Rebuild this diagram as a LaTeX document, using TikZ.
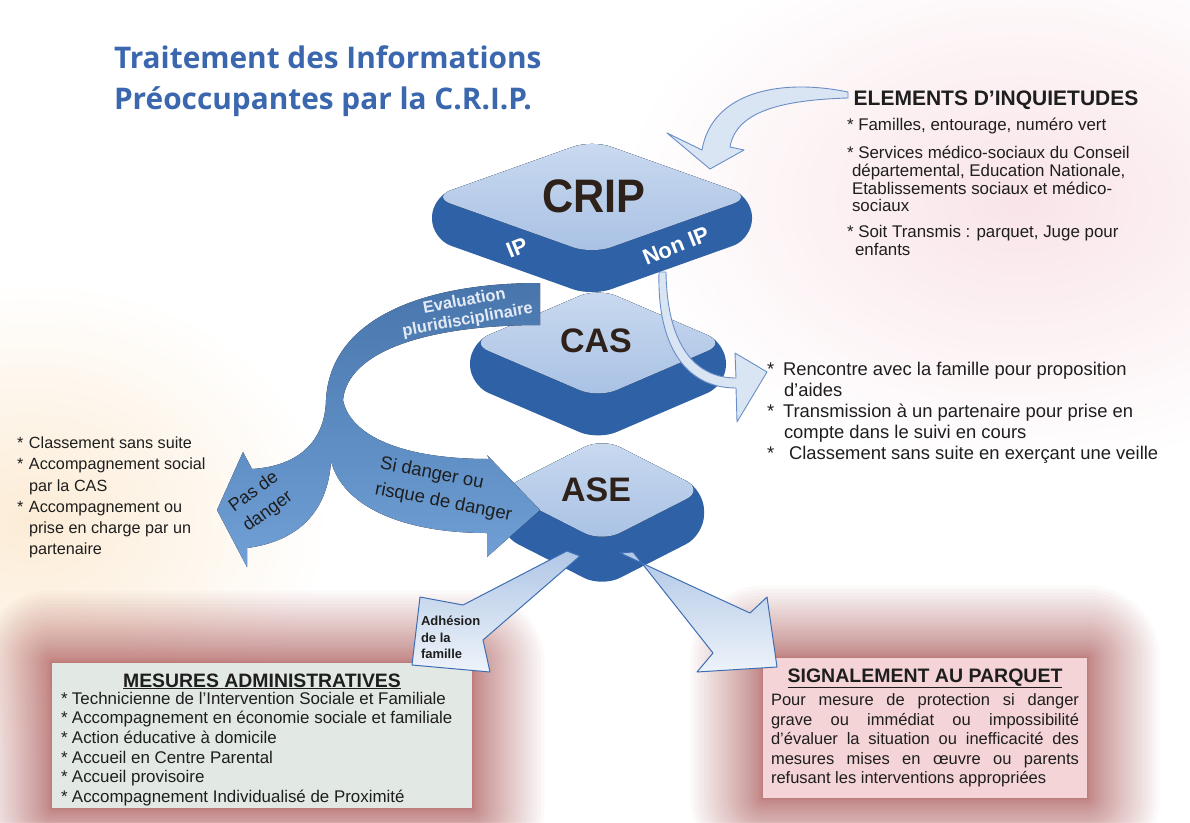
\documentclass[tikz,border=0pt]{standalone}
\usepackage{fontspec}
\usepackage{graphicx}
\setmainfont{Liberation Sans}
\newfontfamily\titlefont{Open Sans}
\newcommand\fsz[2]{\fontsize{#1}{#2}\selectfont}
\definecolor{facetop}{RGB}{202,218,240}
\definecolor{facebot}{RGB}{168,193,228}
\definecolor{sideblue}{RGB}{47,97,167}
\definecolor{bandtop}{RGB}{72,118,172}
\definecolor{bandbot}{RGB}{112,160,214}
\definecolor{arrowfill}{RGB}{218,229,243}
\definecolor{arrowline}{RGB}{105,142,198}
\definecolor{downtop}{RGB}{176,199,230}
\definecolor{downbot}{RGB}{238,243,250}
\definecolor{downline}{RGB}{62,110,178}
\definecolor{titleblue}{RGB}{58,103,174}
\definecolor{txtdark}{RGB}{30,30,30}
\definecolor{slabtxt}{RGB}{45,33,25}
\definecolor{mesfill}{RGB}{226,232,228}
\definecolor{sigfill}{RGB}{244,212,214}
\definecolor{glowred}{RGB}{178,88,88}
\definecolor{softpink}{RGB}{249,228,232}
\definecolor{softpeach}{RGB}{252,236,214}
\definecolor{evaltxt}{RGB}{228,235,245}
\newcommand\softglow[8]{%
  \foreach \k in {#8,...,1}{%
    \pgfmathsetmacro\dd{#6*(\k/#8)^2+0.5}%
    \fill[#5, opacity=#7, rounded corners=\dd pt] (#1-\dd,#2-\dd) rectangle (#3+\dd,#4+\dd);}}
\newcommand\slab[5]{%
  \fill[sideblue, rounded corners=20pt] (#1-#3,#2) -- (#1,#2-#4) -- (#1+#3,#2) -- (#1+#3,#2+#5) -- (#1,#2+#4+#5) -- (#1-#3,#2+#5) -- cycle;
  \fill[top color=facetop, bottom color=facebot, rounded corners=20pt] (#1-#3,#2) -- (#1,#2-#4) -- (#1+#3,#2) -- (#1,#2+#4) -- cycle;}
\begin{document}
\begin{tikzpicture}[x=1pt,y=-1pt,
  every node/.style={inner sep=0pt, outer sep=0pt},
  slablabel/.style={text=slabtxt, font=\bfseries\fsz{34}{36}},
  sidelabel/.style={text=white, font=\bfseries\fsz{22}{24}, rotate=22},
  bodytext/.style={text=txtdark, align=left, anchor=north west},
  arrowtxt/.style={text=txtdark, align=left},
  curvearrow/.style={fill=arrowfill, draw=arrowline, line width=0.9pt, line join=round},
  downarrow/.style={top color=downtop, bottom color=downbot, draw=downline, line width=1pt, line join=round}]
\useasboundingbox (0,0) rectangle (1190,822);
\fill[white] (0,0) rectangle (1190,822);
% soft backgrounds
\begin{scope}
\clip (0,0) rectangle (1190,822);
\shade[inner color=softpink, outer color=white] (1020,200) ellipse (400 and 270);
\shade[inner color=softpeach, outer color=white] (30,520) ellipse (300 and 240);
\end{scope}
\softglow{52}{663}{472}{808}{glowred}{72}{0.03}{40}
\softglow{763}{658}{1087}{798}{glowred}{72}{0.03}{40}
% boxes
\node[fill=mesfill, minimum width=420pt, minimum height=145pt] (mesbox) at (262,735.5) {};
\node[fill=sigfill, minimum width=324pt, minimum height=140pt] (sigbox) at (925,728) {};
% slabs
\slab{602}{490}{102}{52}{45}
\slab{598}{343}{128}{55}{42}
\slab{592}{197}{160}{57}{42}
% evaluation band
\fill[top color=bandtop, bottom color=bandbot]
  (540,283) .. controls (420,283) and (330,320) .. (326,400)
  .. controls (325,440) and (300,466) .. (252,469)
  -- (243,452) -- (217,510) -- (247,567) -- (247,548)
  .. controls (300,541) and (328,510) .. (331,461)
  .. controls (342,505) and (400,533) .. (487,533)
  -- (487,557) -- (540,510) -- (487,455) -- (489,459)
  .. controls (400,459) and (350,435) .. (343,400)
  .. controls (348,350) and (430,325) .. (540,325) -- cycle;
% curved arrow from Elements
\path[curvearrow] (848,92) .. controls (780,78) and (712,92) .. (702,150)
  -- (667,133) -- (710,169) -- (744,150) -- (730,147)
  .. controls (736,112) and (780,100) .. (848,98) -- cycle;
% Non IP arrow
\path[curvearrow] (659,272) .. controls (657,345) and (685,388) .. (736,388)
  -- (737,422) -- (767,372) -- (735,353) -- (736,378)
  .. controls (695,378) and (667,345) .. (666,272) -- cycle;
% ASE down arrows
\path[downarrow] (567,551) -- (463,605) -- (420,597) -- (412,665) -- (490,672) -- (483,640) -- (580,556) -- cycle;
\path[downarrow] (620,553) -- (750,613) -- (767,597) -- (777,667) -- (697,672) -- (713,653) -- (633,552) -- cycle;
% slab labels
\node[slablabel] (crip) at (594,196) {\fsz{47}{50}\scalebox{0.92}[1]{CRIP}};
\node[slablabel] (cas) at (596,341) {CAS};
\node[slablabel] (ase) at (596,490) {ASE};
\node[sidelabel] (ip) at (517,248) {IP};
\node[sidelabel] (nonip) at (676,246) {Non IP};
% arrow labels
\node[text=evaltxt, font=\bfseries\fsz{16.5}{19}, align=center, rotate=10] (eval) at (466,311) {Evaluation\\pluridisciplinaire};
\node[arrowtxt, font=\fsz{18}{24}, rotate=36] (pas) at (261,502) {Pas de\\danger};
\node[arrowtxt, font=\fsz{18.5}{26}, rotate=-11] (sidanger) at (446,490) {Si danger ou\\risque de danger};
\node[arrowtxt, font=\bfseries\fsz{13}{16.5}, anchor=north west] (adh) at (421,616) {Adhésion\\de la\\famille};
% title
\node[text=titleblue, font=\titlefont\bfseries\fsz{29.8}{32}, anchor=base west] (title1) at (114,68) {Traitement des Informations};
\node[text=titleblue, font=\titlefont\bfseries\fsz{29.8}{32}, anchor=base west] (title2) at (114,109) {Préoccupantes par la C.R.I.P.};
% elements
\node[text=txtdark, font=\bfseries\fsz{21}{24}, anchor=base] (elemtitle) at (996,105.5) {ELEMENTS D'INQUIETUDES};
\node[bodytext, font=\fsz{16.9}{17.7}] (elemlist) at (847,118.5)
 {* Familles, entourage, numéro vert\\[10pt]
  * Services médico-sociaux du Conseil\\
  \hspace*{5pt}départemental, Education Nationale,\\
  \hspace*{5pt}Etablissements sociaux et médico-\\
  \hspace*{5pt}sociaux\\[8pt]
  * Soit Transmis : parquet, Juge pour\\
  \hspace*{8pt}enfants};
% CAS outcomes
\node[bodytext, font=\fsz{18.4}{21}] (caslist) at (767,362)
 {\makebox[16pt][l]{*}Rencontre avec la famille pour proposition\\
  \hspace*{17pt}d'aides\\
  \makebox[16pt][l]{*}Transmission à un partenaire pour prise en\\
  \hspace*{17pt}compte dans le suivi en cours\\
  \makebox[22pt][l]{*}Classement sans suite en exerçant une veille};
% no danger outcomes
\node[bodytext, font=\fsz{16.2}{21.2}] (paslist) at (17,437)
 {\makebox[12pt][l]{*}Classement sans suite\\
  \makebox[12pt][l]{*}Accompagnement social\\
  \hspace*{12pt}par la CAS\\
  \makebox[12pt][l]{*}Accompagnement ou\\
  \hspace*{12pt}prise en charge par un\\
  \hspace*{12pt}partenaire};
% mesures
\node[text=txtdark, font=\bfseries\fsz{19.4}{22}, anchor=base] (mestitle) at (262,687) {\underline{MESURES ADMINISTRATIVES}};
\node[bodytext, font=\fsz{16.9}{19.6}] (meslist) at (61,692)
 {\makebox[11pt][l]{*}Technicienne de l'Intervention Sociale et Familiale\\
  \makebox[11pt][l]{*}Accompagnement en économie sociale et familiale\\
  \makebox[11pt][l]{*}Action éducative à domicile\\
  \makebox[11pt][l]{*}Accueil en Centre Parental\\
  \makebox[11pt][l]{*}Accueil provisoire\\
  \makebox[11pt][l]{*}Accompagnement Individualisé de Proximité};
% signalement
\node[text=txtdark, font=\bfseries\fsz{19.5}{22}, anchor=base] (sigtitle) at (925,682) {\underline{SIGNALEMENT AU PARQUET}};
\node[bodytext, font=\fsz{16.5}{19.5}] (sigtext) at (771,694)
 {\makebox[308pt][s]{Pour mesure de protection si danger}\\
  \makebox[308pt][s]{grave ou immédiat ou impossibilité}\\
  \makebox[308pt][s]{d'évaluer la situation ou inefficacité des}\\
  \makebox[308pt][s]{mesures mises en œuvre ou parents}\\
  refusant les interventions appropriées};
\end{tikzpicture}
\end{document}
